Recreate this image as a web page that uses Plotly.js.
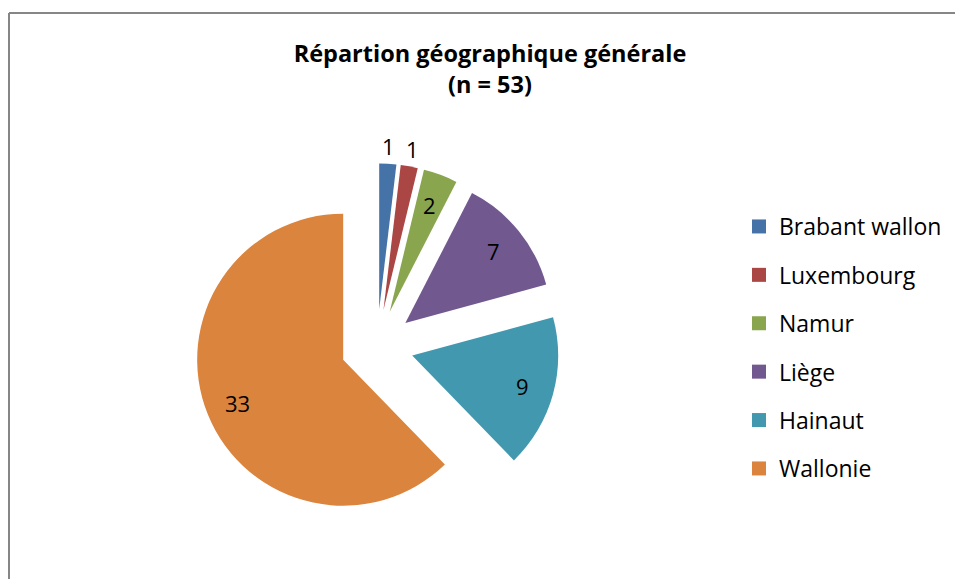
<!DOCTYPE html>
<html>
<head>
<meta charset="utf-8">
<script src="https://cdn.plot.ly/plotly-3.0.1.min.js"></script>
<style>
  html, body { margin: 0; padding: 0; background: #fff; }
  #chart { width: 955px; height: 579px; }
</style>
</head>
<body>
<div id="chart"></div>
<script>
// Data
const regions = ["Brabant wallon", "Luxembourg", "Namur", "Liège", "Hainaut", "Wallonie"];
const counts = [1, 1, 2, 7, 9, 33];
const colors = ["#4572A7", "#AA4643", "#89A54E", "#71588F", "#4198AF", "#DB843D"];
const labelOutside = [true, true, false, false, false, false];
const titleLine = "Répartion géographique générale";
const subtitleLine = "(n = 53)";

const FONT = "Open Sans, Noto Sans, sans-serif";
const PULL = 0.25;

const pie = {
  type: "pie",
  labels: regions,
  values: counts,
  sort: false,
  direction: "clockwise",
  rotation: 0,
  pull: counts.map(() => PULL),
  marker: { colors: colors, line: { width: 0 } },
  textinfo: "none",
  domain: { x: [194.5 / 955, 559.5 / 955], y: [50.5 / 579, 415.5 / 579] },
  showlegend: false,
  hoverinfo: "label+value+percent"
};

// legend entries (one per region) so the item spacing can match
const legendTraces = regions.map((r, i) => ({
  type: "scatter",
  mode: "markers",
  x: [null],
  y: [null],
  name: r,
  legendgroup: "g" + i,
  marker: { symbol: "square", size: 14, color: colors[i], line: { width: 0 } },
  showlegend: true,
  hoverinfo: "skip"
}));

const layout = {
  width: 955,
  height: 579,
  margin: { l: 0, r: 0, t: 0, b: 0 },
  paper_bgcolor: "#fff",
  plot_bgcolor: "#fff",
  font: { family: FONT, color: "#000" },
  title: {
    text: titleLine + "<br>" + subtitleLine,
    font: { family: FONT, size: 23.5, color: "#000", weight: "bold" },
    x: 490 / 955,
    xanchor: "center",
    y: 1 - 62 / 579,
    yanchor: "middle"
  },
  xaxis: { visible: false },
  yaxis: { visible: false },
  showlegend: true,
  legend: {
    x: 739 / 955,
    xanchor: "left",
    y: 1 - 205 / 579,
    yanchor: "top",
    font: { family: FONT, size: 23, color: "#000" },
    tracegroupgap: 15.5,
    bgcolor: "rgba(0,0,0,0)"
  },
  shapes: [
    { type: "line", xref: "paper", yref: "paper", x0: 9 / 955, x1: 9 / 955, y0: -0.05, y1: 1 - 13 / 579, line: { color: "#868686", width: 2 } },
    { type: "line", xref: "paper", yref: "paper", x0: 9 / 955, x1: 1.05, y0: 1 - 13 / 579, y1: 1 - 13 / 579, line: { color: "#868686", width: 2 } }
  ]
};

const gd = document.getElementById("chart");
Plotly.newPlot(gd, [pie].concat(legendTraces), layout, { displayModeBar: false, staticPlot: true }).then(() => {
  // value labels placed along each slice's bisector, using the pie geometry Plotly computed
  const cd = gd.calcdata[0];
  const cd0 = cd[0];
  const W = gd._fullLayout.width, H = gd._fullLayout.height;
  const anns = cd.map((pt, i) => {
    const f = labelOutside[i] ? 1.12 : 0.78;
    const px = cd0.cx + pt.pxmid[0] * (PULL + f);
    const py = cd0.cy + pt.pxmid[1] * (PULL + f);
    return {
      xref: "paper", yref: "paper",
      x: px / W, y: 1 - py / H,
      xanchor: "center", yanchor: "middle",
      text: String(counts[i]),
      showarrow: false,
      font: { family: FONT, size: 22, color: "#000" }
    };
  });
  return Plotly.relayout(gd, { annotations: anns });
});
</script>
</body>
</html>
